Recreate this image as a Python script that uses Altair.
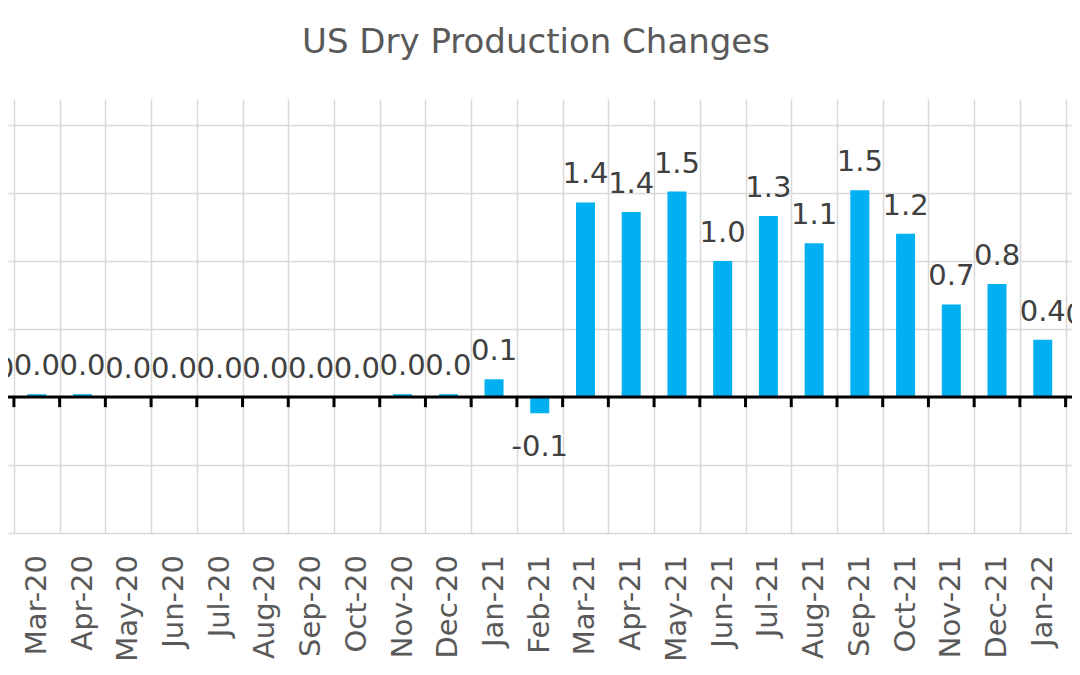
import altair as alt
import pandas as pd

# ---- data ----
TITLE = "US Dry Production Changes"
months = ["Feb-20", "Mar-20", "Apr-20", "May-20", "Jun-20", "Jul-20", "Aug-20",
          "Sep-20", "Oct-20", "Nov-20", "Dec-20", "Jan-21", "Feb-21", "Mar-21",
          "Apr-21", "May-21", "Jun-21", "Jul-21", "Aug-21", "Sep-21", "Oct-21",
          "Nov-21", "Dec-21", "Jan-22", "Feb-22"]
values = [0.0, 0.02, 0.02, 0.0, 0.0, 0.0, 0.0,
          0.0, 0.0, 0.02, 0.02, 0.13, -0.12, 1.43,
          1.36, 1.51, 1.0, 1.33, 1.13, 1.52, 1.2,
          0.68, 0.83, 0.42, 0.4]
y_grid = [-1.0, -0.5, 0.0, 0.5, 1.0, 1.5, 2.0]

df = pd.DataFrame({"idx": list(range(len(months))), "month": months, "value": values})
df["label"] = df["value"].map(lambda v: f"{v:.1f}")
bounds = pd.DataFrame({"b": [i + 0.5 for i in range(-1, len(months))]})

# ---- layout ----
W, H = 1064, 434
PX_PER_CAT = 46.16
FIRST_CENTER_PX = 24  # pixel centre of Mar-20 (idx 1)
x_lo = 1 - FIRST_CENTER_PX / PX_PER_CAT
x_hi = x_lo + W / PX_PER_CAT
xscale = alt.Scale(domain=[x_lo, x_hi], nice=False, zero=False)
yscale = alt.Scale(domain=[-1.0, 2.19], nice=False, zero=False)
FONT = "DejaVu Sans"
GRID = "#d9d9d9"

base = alt.Chart(df)

bars = base.mark_bar(color="#00B0F0", size=19, clip=True).encode(
    x=alt.X("idx:Q", scale=xscale,
            axis=alt.Axis(values=bounds["b"].tolist(), grid=True, gridColor=GRID,
                          gridWidth=1.5, labels=False, ticks=False, domain=False,
                          title=None)),
    y=alt.Y("value:Q", scale=yscale,
            axis=alt.Axis(values=y_grid, grid=True, gridColor=GRID, gridWidth=1.5,
                          labels=False, ticks=False, domain=False, title=None)),
)

pos_labels = base.transform_filter("datum.value >= 0").mark_text(
    font=FONT, fontSize=29, color="#404040", baseline="alphabetic", dy=-19, clip=True
).encode(x=alt.X("idx:Q", scale=xscale), y=alt.Y("value:Q", scale=yscale), text="label:N")

neg_labels = base.transform_filter("datum.value < 0").mark_text(
    font=FONT, fontSize=29, color="#404040", baseline="alphabetic", dy=43, clip=True
).encode(x=alt.X("idx:Q", scale=xscale), y=alt.Y("value:Q", scale=yscale), text="label:N")

zero_line = alt.Chart(pd.DataFrame({"z": [0.0]})).mark_rule(
    color="black", strokeWidth=3
).encode(y=alt.Y("z:Q", scale=yscale))

TICK_LEN = 0.075
ticks = alt.Chart(bounds).transform_calculate(
    y0="0", y1=str(-TICK_LEN)
).mark_rule(color="black", strokeWidth=3, clip=True).encode(
    x=alt.X("b:Q", scale=xscale),
    y=alt.Y("y0:Q", scale=yscale),
    y2="y1:Q",
)

month_labels = base.transform_filter(
    f"datum.idx > {x_lo} && datum.idx < {x_hi}"
).mark_text(
    font=FONT, fontSize=29, color="#595959", angle=270, align="right",
    baseline="middle"
).encode(x=alt.X("idx:Q", scale=xscale), y=alt.value(456), text="month:N")

title = alt.Chart(pd.DataFrame({"t": [TITLE]})).mark_text(
    font=FONT, fontSize=34, color="#595959", align="center", baseline="alphabetic"
).encode(x=alt.value(528), y=alt.value(-46), text="t:N")

chart = alt.layer(
    bars, zero_line, ticks, pos_labels, neg_labels, month_labels, title
).properties(
    width=W, height=H,
    padding={"left": 0, "top": 91, "right": 0, "bottom": 126},
    autosize=alt.AutoSizeParams(type="none"),
    background="white",
).configure_view(stroke=None)

chart.save("out.html", embed_options={"renderer": "svg", "actions": False})
